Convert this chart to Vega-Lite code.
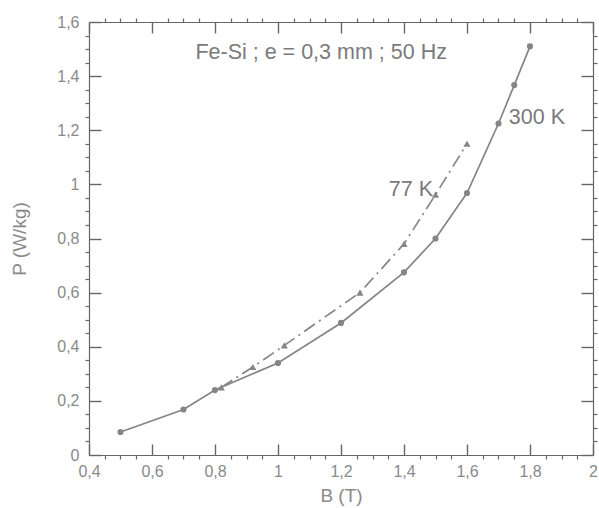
{
  "$schema": "https://vega.github.io/schema/vega-lite/v6.json",
  "width": 504,
  "height": 433,
  "autosize": {"type": "none"},
  "padding": {"left": 89, "top": 22, "right": 6, "bottom": 53},
  "background": "white",
  "config": {
    "view": {"stroke": null},
    "axis": {"grid": false, "labelFont": "Liberation Sans", "titleFont": "Liberation Sans", "labelColor": "#8a8a8a", "titleColor": "#8a8a8a", "domainColor": "#666666", "tickColor": "#666666", "titleFontWeight": "normal"},
    "text": {"font": "Liberation Sans"}
  },
  "datasets": {
    "curves": [
      {"B": 0.5, "P": 0.085, "T": "300 K"},
      {"B": 0.7, "P": 0.168, "T": "300 K"},
      {"B": 0.8, "P": 0.24, "T": "300 K"},
      {"B": 1.0, "P": 0.34, "T": "300 K"},
      {"B": 1.2, "P": 0.488, "T": "300 K"},
      {"B": 1.4, "P": 0.675, "T": "300 K"},
      {"B": 1.5, "P": 0.80, "T": "300 K"},
      {"B": 1.6, "P": 0.968, "T": "300 K"},
      {"B": 1.7, "P": 1.225, "T": "300 K"},
      {"B": 1.75, "P": 1.367, "T": "300 K"},
      {"B": 1.8, "P": 1.51, "T": "300 K"},
      {"B": 0.82, "P": 0.25, "T": "77 K"},
      {"B": 0.92, "P": 0.325, "T": "77 K"},
      {"B": 1.02, "P": 0.405, "T": "77 K"},
      {"B": 1.26, "P": 0.6, "T": "77 K"},
      {"B": 1.4, "P": 0.78, "T": "77 K"},
      {"B": 1.5, "P": 0.962, "T": "77 K"},
      {"B": 1.6, "P": 1.15, "T": "77 K"}
    ],
    "labels": [
      {"B": 1.137, "P": 1.486, "label": "Fe-Si ; e = 0,3 mm ; 50 Hz"},
      {"B": 1.822, "P": 1.245, "label": "300 K"},
      {"B": 1.422, "P": 0.979, "label": "77 K"}
    ]
  },
  "resolve": {"axis": {"x": "independent", "y": "independent"}},
  "layer": [
    {
      "data": {"name": "curves"},
      "transform": [{"filter": "datum.T === '300 K'"}],
      "mark": {"type": "line", "color": "#858585", "strokeWidth": 1.7},
      "encoding": {
        "x": {"field": "B", "type": "quantitative", "scale": {"domain": [0.4, 2], "nice": false, "zero": false},
          "axis": {"orient": "bottom", "title": "B (T)", "values": [0.4, 0.6, 0.8, 1, 1.2, 1.4, 1.6, 1.8, 2], "ticks": false, "domain": true, "domainWidth": 1.2, "labelPadding": 8, "labelFontSize": 16, "titleFontSize": 19, "titlePadding": 7, "labelExpr": "replace(format(datum.value, '~g'), '.', ',')", "labelFlush": false}},
        "y": {"field": "P", "type": "quantitative", "scale": {"domain": [0, 1.6], "nice": false, "zero": false},
          "axis": {"orient": "left", "title": "P (W/kg)", "values": [0, 0.2, 0.4, 0.6, 0.8, 1, 1.2, 1.4, 1.6], "ticks": false, "domain": true, "domainWidth": 1.2, "labelPadding": 10, "labelFontSize": 16, "titleFontSize": 19, "titlePadding": 27, "labelExpr": "replace(format(datum.value, '~g'), '.', ',')", "labelFlush": false}}
      }
    },
    {
      "data": {"name": "curves"},
      "transform": [{"filter": "datum.T === '77 K'"}],
      "mark": {"type": "line", "color": "#858585", "strokeWidth": 1.7, "strokeDash": [13, 5, 2, 5]},
      "encoding": {
        "x": {"field": "B", "type": "quantitative", "axis": null},
        "y": {"field": "P", "type": "quantitative", "axis": null}
      }
    },
    {
      "data": {"name": "curves"},
      "transform": [{"filter": "datum.T === '300 K'"}],
      "mark": {"type": "point", "shape": "circle", "filled": true, "color": "#858585", "size": 38, "opacity": 1},
      "encoding": {
        "x": {"field": "B", "type": "quantitative", "axis": null},
        "y": {"field": "P", "type": "quantitative", "axis": null}
      }
    },
    {
      "data": {"name": "curves"},
      "transform": [{"filter": "datum.T === '77 K'"}],
      "mark": {"type": "point", "shape": "triangle-up", "filled": true, "color": "#858585", "size": 50, "opacity": 1},
      "encoding": {
        "x": {"field": "B", "type": "quantitative", "axis": null},
        "y": {"field": "P", "type": "quantitative", "axis": null}
      }
    },
    {
      "data": {"name": "labels"},
      "mark": {"type": "text", "color": "#7a7a7a", "fontSize": 21.5, "align": "center", "baseline": "middle"},
      "encoding": {
        "x": {"field": "B", "type": "quantitative", "axis": null},
        "y": {"field": "P", "type": "quantitative", "axis": null},
        "text": {"field": "label"}
      }
    },
    {
      "data": {"name": "curves"},
      "mark": {"type": "point", "opacity": 0},
      "encoding": {
        "x": {"field": "B", "type": "quantitative", "axis": {"orient": "bottom", "title": null, "labels": false, "domain": false, "values": [0.4, 0.6, 0.8, 1, 1.2, 1.4, 1.6, 1.8, 2], "tickSize": -11, "tickWidth": 1.4}},
        "y": {"field": "P", "type": "quantitative", "axis": {"orient": "left", "title": null, "labels": false, "domain": false, "values": [0, 0.2, 0.4, 0.6, 0.8, 1, 1.2, 1.4, 1.6], "tickSize": -12, "tickWidth": 1.4}}
      }
    },
    {
      "data": {"name": "curves"},
      "mark": {"type": "point", "opacity": 0},
      "encoding": {
        "x": {"field": "B", "type": "quantitative", "axis": {"orient": "bottom", "title": null, "labels": false, "domain": false, "values": [0.45, 0.5, 0.55, 0.65, 0.7, 0.75, 0.85, 0.9, 0.95, 1.05, 1.1, 1.15, 1.25, 1.3, 1.35, 1.45, 1.5, 1.55, 1.65, 1.7, 1.75, 1.85, 1.9, 1.95], "tickSize": 4, "tickWidth": 1.2}},
        "y": {"field": "P", "type": "quantitative", "axis": {"orient": "left", "title": null, "labels": false, "domain": false, "values": [0.05, 0.1, 0.15, 0.25, 0.3, 0.35, 0.45, 0.5, 0.55, 0.65, 0.7, 0.75, 0.85, 0.9, 0.95, 1.05, 1.1, 1.15, 1.25, 1.3, 1.35, 1.45, 1.5, 1.55], "tickSize": 4, "tickWidth": 1.2}}
      }
    },
    {
      "data": {"name": "curves"},
      "mark": {"type": "point", "opacity": 0},
      "encoding": {
        "x": {"field": "B", "type": "quantitative", "axis": {"orient": "top", "title": null, "labels": false, "domain": true, "domainWidth": 1.2, "values": [0.4, 0.6, 0.8, 1, 1.2, 1.4, 1.6, 1.8, 2], "tickSize": -11, "tickWidth": 1.4}},
        "y": {"field": "P", "type": "quantitative", "axis": {"orient": "right", "title": null, "labels": false, "domain": true, "domainWidth": 1.2, "values": [0, 0.2, 0.4, 0.6, 0.8, 1, 1.2, 1.4, 1.6], "tickSize": -12, "tickWidth": 1.4}}
      }
    },
    {
      "data": {"name": "curves"},
      "mark": {"type": "point", "opacity": 0},
      "encoding": {
        "x": {"field": "B", "type": "quantitative", "axis": {"orient": "top", "title": null, "labels": false, "domain": false, "values": [0.45, 0.5, 0.55, 0.65, 0.7, 0.75, 0.85, 0.9, 0.95, 1.05, 1.1, 1.15, 1.25, 1.3, 1.35, 1.45, 1.5, 1.55, 1.65, 1.7, 1.75, 1.85, 1.9, 1.95], "tickSize": 4, "tickWidth": 1.2}},
        "y": {"field": "P", "type": "quantitative", "axis": {"orient": "right", "title": null, "labels": false, "domain": false, "values": [0.05, 0.1, 0.15, 0.25, 0.3, 0.35, 0.45, 0.5, 0.55, 0.65, 0.7, 0.75, 0.85, 0.9, 0.95, 1.05, 1.1, 1.15, 1.25, 1.3, 1.35, 1.45, 1.5, 1.55], "tickSize": 4, "tickWidth": 1.2}}
      }
    }
  ]
}
